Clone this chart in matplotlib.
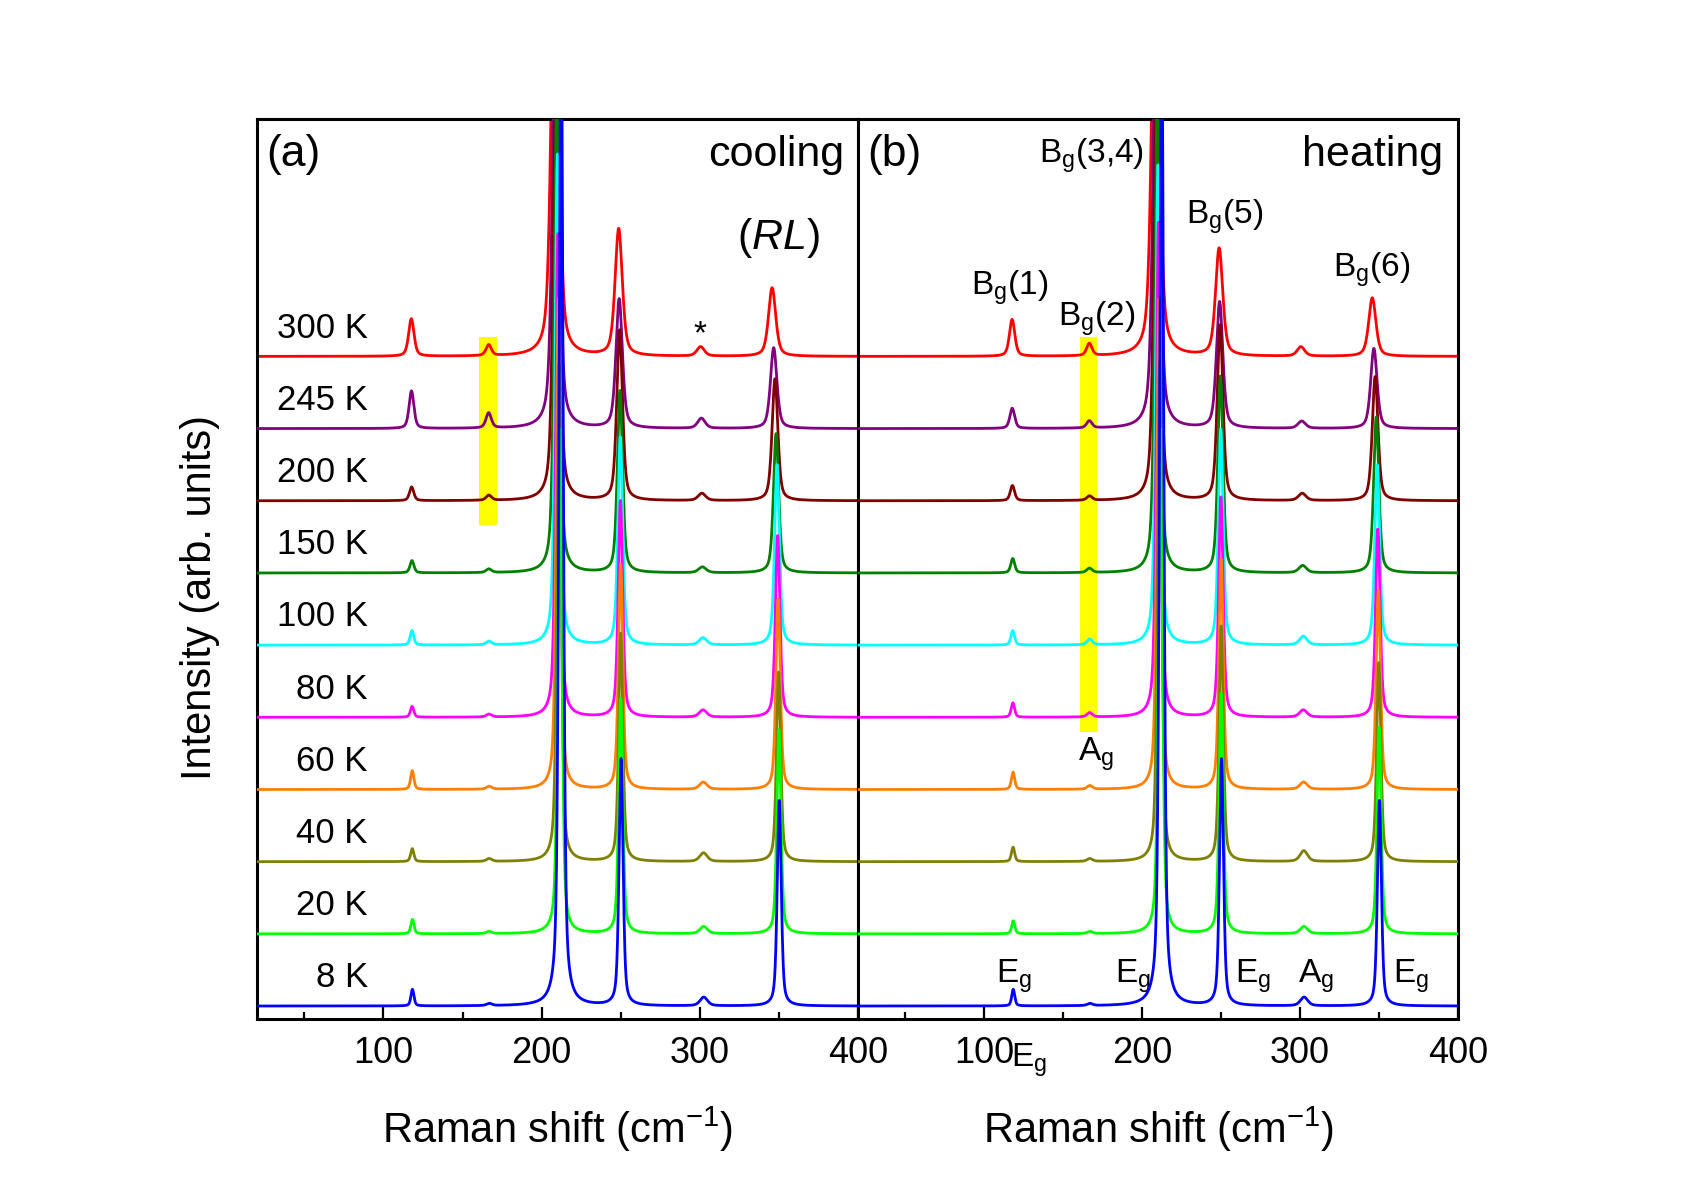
import numpy as np
import matplotlib
matplotlib.use("Agg")
import matplotlib.pyplot as plt

plt.rcParams['font.family'] = ['Liberation Sans', 'DejaVu Sans']
plt.rcParams['mathtext.fontset'] = 'custom'
plt.rcParams['mathtext.rm'] = 'Liberation Sans'
plt.rcParams['mathtext.it'] = 'Liberation Sans:italic'
plt.rcParams['mathtext.default'] = 'regular'

# ---------------- data ----------------
temps = ['300 K', '245 K', '200 K', '150 K', '100 K', '80 K', '60 K', '40 K', '20 K', '8 K']
colors = ['#FF0000', '#800080', '#800000', '#008000', '#00FFFF',
          '#FF00FF', '#FF8000', '#808000', '#00FF00', '#0000FF']

# peak positions (cm^-1)
p118_pos = [117.6, 117.7, 117.8, 118.0, 118.0, 118.1, 118.2, 118.2, 118.3, 118.3]
p165_pos = [166.5, 166.5, 166.6, 166.6, 166.7, 166.7, 166.8, 166.8, 166.8, 166.9]
main_pos = [208.5, 209.0, 209.3, 209.6, 210.0, 210.3, 210.6, 211.0, 211.5, 212.3]
b5_pos = [248.7, 249.0, 249.3, 249.5, 249.7, 249.8, 249.9, 250.0, 250.0, 250.2]
p302_pos = [300.5, 301.0, 301.3, 301.6, 302.0, 302.0, 302.2, 302.3, 302.4, 302.5]
b6_pos = [345.7, 346.7, 347.5, 348.2, 348.8, 349.2, 349.5, 349.8, 350.0, 350.2]
# half width at half maximum of the strong modes per temperature (cm^-1)
hwhm = [2.7, 2.4, 2.15, 1.95, 1.8, 1.7, 1.65, 1.6, 1.55, 1.5]

# (a) cooling : peak heights (offset units)
main_h_cool = [6.5, 6.5, 6.6, 6.7, 6.8, 6.7, 6.8, 6.9, 7.0, 14.0]
b5_h_cool = [1.76, 1.79, 2.36, 2.52, 2.88, 3.00, 3.12, 3.16, 3.26, 3.42]
b6_h_cool = [0.95, 1.12, 1.69, 1.93, 2.50, 2.52, 2.64, 2.63, 2.83, 2.85]
p118_h_cool = [0.52, 0.52, 0.19, 0.17, 0.20, 0.15, 0.26, 0.18, 0.20, 0.23]
p165_h_cool = [0.15, 0.21, 0.07, 0.05, 0.05, 0.04, 0.04, 0.04, 0.03, 0.03]
p302_h_cool = [0.13, 0.14, 0.10, 0.08, 0.10, 0.10, 0.10, 0.12, 0.10, 0.12]

# (b) heating : peak heights
main_h_heat = [6.5, 6.5, 6.6, 6.7, 6.65, 6.86, 6.8, 6.9, 7.0, 14.0]
b5_h_heat = [1.49, 1.75, 2.43, 2.72, 2.99, 3.05, 3.19, 3.26, 3.33, 3.42]
b6_h_heat = [0.81, 1.11, 1.72, 2.16, 2.50, 2.61, 2.76, 2.76, 2.86, 2.85]
p118_h_heat = [0.51, 0.28, 0.21, 0.20, 0.20, 0.20, 0.24, 0.20, 0.18, 0.23]
p165_h_heat = [0.17, 0.10, 0.06, 0.06, 0.08, 0.06, 0.05, 0.04, 0.03, 0.03]
p302_h_heat = [0.13, 0.10, 0.10, 0.10, 0.12, 0.10, 0.10, 0.15, 0.10, 0.12]

# highlighted A_g region
hl_x = [160.5, 171.5]
hl_y_cool = [6.66, 9.27]
hl_y_heat = [3.79, 9.27]

# ---------------- figure ----------------
fig = plt.figure(figsize=(16.96, 11.92), dpi=100)
axL = fig.add_axes([0.1515, 0.1451, 0.3544, 0.7551])
axR = fig.add_axes([0.5059, 0.1451, 0.3538, 0.7551])

x = np.linspace(20, 400, 3041)


def pv(x0, h, g, eta=0.5):
    u2 = ((x - x0) / g) ** 2
    return h * (eta / (1.0 + u2) + (1 - eta) * np.exp(-np.log(2) * u2))


def spectrum(i, mh, b5h, b6h, h118, h165, h302):
    g = hwhm[i]
    y = (pv(main_pos[i], mh[i], g) + pv(b5_pos[i], b5h[i], g)
         + pv(b6_pos[i], b6h[i], g) + pv(p118_pos[i], h118[i], 0.75 * g)
         + pv(p165_pos[i], h165[i], 2.0) + pv(p302_pos[i], h302[i], 2.8))
    return y


n = len(temps)
for ax, hs, hly in [(axL, (main_h_cool, b5_h_cool, b6_h_cool, p118_h_cool, p165_h_cool, p302_h_cool), hl_y_cool),
                    (axR, (main_h_heat, b5_h_heat, b6_h_heat, p118_h_heat, p165_h_heat, p302_h_heat), hl_y_heat)]:
    ax.fill_between(hl_x, hly[0], hly[1], color='#FFFF00', lw=0, zorder=1)
    for i in range(n):
        off = n - 1 - i
        ax.plot(x, spectrum(i, *hs) + off, color=colors[i], lw=2.0, zorder=2 + i)
    ax.set_xlim(20, 400)
    ax.set_ylim(-0.18, 12.29)
    ax.set_yticks([])
    ax.set_xticks([100, 200, 300, 400])
    ax.set_xticks([50, 150, 250, 350], minor=True)
    ax.tick_params(axis='x', which='major', direction='in', length=9, width=1.6,
                   labelsize=26, pad=12)
    ax.tick_params(axis='x', which='minor', direction='in', length=5, width=1.6)
    for sp in ax.spines.values():
        sp.set_linewidth(2.2)

# temperature labels (a)
for i in range(n):
    off = n - 1 - i
    axL.text(90, off + 0.26, temps[i], ha='right', va='baseline', fontsize=25)

axL.text(0.016, 0.96, '(a)', transform=axL.transAxes, ha='left', va='center', fontsize=32)
axL.text(0.977, 0.96, 'cooling', transform=axL.transAxes, ha='right', va='center', fontsize=31)
axL.text(0.868, 0.868, r'($\mathit{RL}$)', transform=axL.transAxes, ha='center', va='center', fontsize=31)
axL.text(300, 9.3, '*', ha='center', va='center', fontsize=24)

axR.text(0.016, 0.96, '(b)', transform=axR.transAxes, ha='left', va='center', fontsize=32)
axR.text(0.975, 0.96, 'heating', transform=axR.transAxes, ha='right', va='center', fontsize=31)

fs = 24
axR.text(167.6, 11.68, r'B$_g$(3,4)', ha='center', va='baseline', fontsize=fs)
axR.text(252, 10.84, r'B$_g$(5)', ha='center', va='baseline', fontsize=fs)
axR.text(116, 9.85, r'B$_g$(1)', ha='center', va='baseline', fontsize=fs)
axR.text(171, 9.43, r'B$_g$(2)', ha='center', va='baseline', fontsize=fs)
axR.text(345, 10.1, r'B$_g$(6)', ha='center', va='baseline', fontsize=fs)
axR.text(171, 3.4, r'A$_g$', ha='center', va='baseline', fontsize=fs)
for xx, lab in [(119, 'E'), (194, 'E'), (270, 'E'), (310, 'A'), (370, 'E')]:
    axR.text(xx, 0.33, lab + r'$_g$', ha='center', va='baseline', fontsize=fs)
axR.text(128, -0.84, r'E$_g$', ha='center', va='baseline', fontsize=fs, clip_on=False)

fig.text(200 / 1696, 0.499, 'Intensity (arb. units)', rotation=90, ha='center', va='center', fontsize=30)
fig.text(0.1515 + 0.3544 / 2, 0.041, r'Raman shift (cm$^{-1}$)', ha='center', va='baseline', fontsize=30)
fig.text(0.5059 + 0.3538 / 2, 0.041, r'Raman shift (cm$^{-1}$)', ha='center', va='baseline', fontsize=30)

fig.savefig('out.png', dpi=100)
